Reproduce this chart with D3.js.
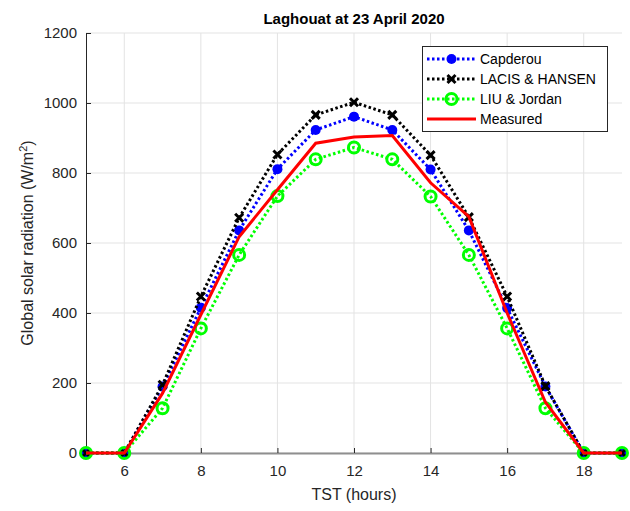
<!DOCTYPE html>
<html>
<head>
<meta charset="utf-8">
<script src="https://cdn.jsdelivr.net/npm/d3@7"></script>
<style>
  body { margin: 0; background: #fff; }
  text { font-family: "Liberation Sans", Arial, sans-serif; }
</style>
</head>
<body>
<div id="chart"></div>
<script>
// hours of true solar time
const hours = [5, 6, 7, 8, 9, 10, 11, 12, 13, 14, 15, 16, 17, 18, 19]

// global solar radiation (W/m2) for each model
const capderou = [0, 0, 190, 415, 636, 811, 923, 961, 923, 810, 636, 414, 190, 0, 0]
const lacisHansen = [0, 0, 195, 447, 672, 853, 966, 1002, 966, 851, 674, 447, 191, 0, 0]
const liuJordan = [0, 0, 128, 356, 566, 734, 839, 873, 839, 733, 566, 356, 128, 0, 0]
const measured = [0, 0, 171, 395, 618, 752, 885, 903, 907, 772, 675, 400, 145, 0, 0]

const xTicks = [6, 8, 10, 12, 14, 16, 18]
const yTicks = [0, 200, 400, 600, 800, 1000, 1200]

const series = [
    { name: "Capderou", values: capderou, color: "#0000ff", dotted: true, marker: "dot" },
    { name: "LACIS & HANSEN", values: lacisHansen, color: "#000000", dotted: true, marker: "cross" },
    { name: "LIU & Jordan", values: liuJordan, color: "#00ff00", dotted: true, marker: "ring" },
    { name: "Measured", values: measured, color: "#ff0000", dotted: false, marker: null }
]

const width = 630, height = 511
const plotLeft = 86, plotRight = 622, plotTop = 33, plotBottom = 453

const svg = d3.select("#chart")
    .append("svg")
    .attr("width", width)
    .attr("height", height)

const xScale = d3.scaleLinear().domain([5, 19]).range([plotLeft, plotRight])
const yScale = d3.scaleLinear().domain([0, 1200]).range([plotBottom, plotTop])

// grid lines
svg.append("g")
    .selectAll("line")
    .data(xTicks)
    .enter()
    .append("line")
    .attr("x1", d => xScale(d)).attr("x2", d => xScale(d))
    .attr("y1", plotTop).attr("y2", plotBottom)
    .attr("stroke", "#e3e3e3")
    .attr("stroke-width", 1)

svg.append("g")
    .selectAll("line")
    .data(yTicks)
    .enter()
    .append("line")
    .attr("x1", plotLeft).attr("x2", plotRight)
    .attr("y1", d => yScale(d)).attr("y2", d => yScale(d))
    .attr("stroke", "#e3e3e3")
    .attr("stroke-width", 1)

// axes
const xAxis = d3.axisBottom(xScale).tickValues(xTicks).tickFormat(d3.format("d"))
    .tickSizeInner(-5).tickSizeOuter(0).tickPadding(12)
const gx = svg.append("g")
    .attr("transform", `translate(0, ${plotBottom})`)
    .call(xAxis)
gx.select(".domain").attr("stroke", "#8f8f8f").attr("stroke-width", 2)
gx.selectAll(".tick line").attr("stroke", "#262626")
gx.selectAll(".tick text").attr("fill", "#262626").style("font-size", "15px")

const yAxis = d3.axisLeft(yScale).tickValues(yTicks).tickFormat(d3.format("d"))
    .tickSizeInner(-5).tickSizeOuter(0).tickPadding(9)
const gy = svg.append("g")
    .attr("transform", `translate(${plotLeft}, 0)`)
    .call(yAxis)
gy.select(".domain").attr("stroke", "#262626").attr("stroke-width", 1)
gy.selectAll(".tick line").attr("stroke", "#262626")
gy.selectAll(".tick text").attr("fill", "#262626").style("font-size", "15px")

// lines
const line = d3.line()
    .x((d, i) => xScale(hours[i]))
    .y(d => yScale(d))

function drawMarker(g, type, color, x, y) {
    if (type == "dot") {
        g.append("circle").attr("cx", x).attr("cy", y).attr("r", 5).attr("fill", color)
    } else if (type == "cross") {
        const s = 4
        g.append("path")
            .attr("d", `M${x - s},${y - s}L${x + s},${y + s}M${x - s},${y + s}L${x + s},${y - s}`)
            .attr("stroke", color).attr("stroke-width", 3).attr("fill", "none")
    } else if (type == "ring") {
        g.append("circle").attr("cx", x).attr("cy", y).attr("r", 5.5)
            .attr("fill", "none").attr("stroke", color).attr("stroke-width", 3)
    }
}

series.forEach(s => {
    const g = svg.append("g")
    g.append("path")
        .datum(s.values)
        .attr("d", line)
        .attr("fill", "none")
        .attr("stroke", s.color)
        .attr("stroke-width", 3)
        .attr("stroke-dasharray", s.dotted ? "2.5,2.5" : null)
    if (s.marker) {
        s.values.forEach((v, i) => drawMarker(g, s.marker, s.color, xScale(hours[i]), yScale(v)))
    }
})

// title and labels
svg.append("text")
    .attr("x", (plotLeft + plotRight) / 2)
    .attr("y", 24)
    .attr("text-anchor", "middle")
    .style("font-size", "15px")
    .style("font-weight", "bold")
    .attr("fill", "#000")
    .text("Laghouat at 23 April 2020")

svg.append("text")
    .attr("x", (plotLeft + plotRight) / 2)
    .attr("y", 500)
    .attr("text-anchor", "middle")
    .style("font-size", "16px")
    .attr("fill", "#262626")
    .text("TST (hours)")

const yLabel = svg.append("text")
    .attr("transform", `translate(33, ${(plotTop + plotBottom) / 2}) rotate(-90)`)
    .attr("text-anchor", "middle")
    .style("font-size", "16px")
    .attr("fill", "#262626")
yLabel.append("tspan").text("Global solar radiation (W/m")
yLabel.append("tspan").attr("dy", -6).style("font-size", "11px").text("2")
yLabel.append("tspan").attr("dy", 6).text(")")

// legend
const legend = svg.append("g")
legend.append("rect")
    .attr("x", 422.5).attr("y", 46.5)
    .attr("width", 185).attr("height", 85)
    .attr("fill", "#fff")
    .attr("stroke", "#262626")
    .attr("stroke-width", 1)

series.forEach((s, i) => {
    const ly = 59 + i * 20
    legend.append("line")
        .attr("x1", 427).attr("x2", 476)
        .attr("y1", ly).attr("y2", ly)
        .attr("stroke", s.color)
        .attr("stroke-width", 3)
        .attr("stroke-dasharray", s.dotted ? "2.5,2.5" : null)
    if (s.marker) drawMarker(legend, s.marker, s.color, 451.5, ly)
    legend.append("text")
        .attr("x", 480)
        .attr("y", ly + 5)
        .style("font-size", "14px")
        .attr("fill", "#000")
        .text(s.name)
})
</script>
</body>
</html>
